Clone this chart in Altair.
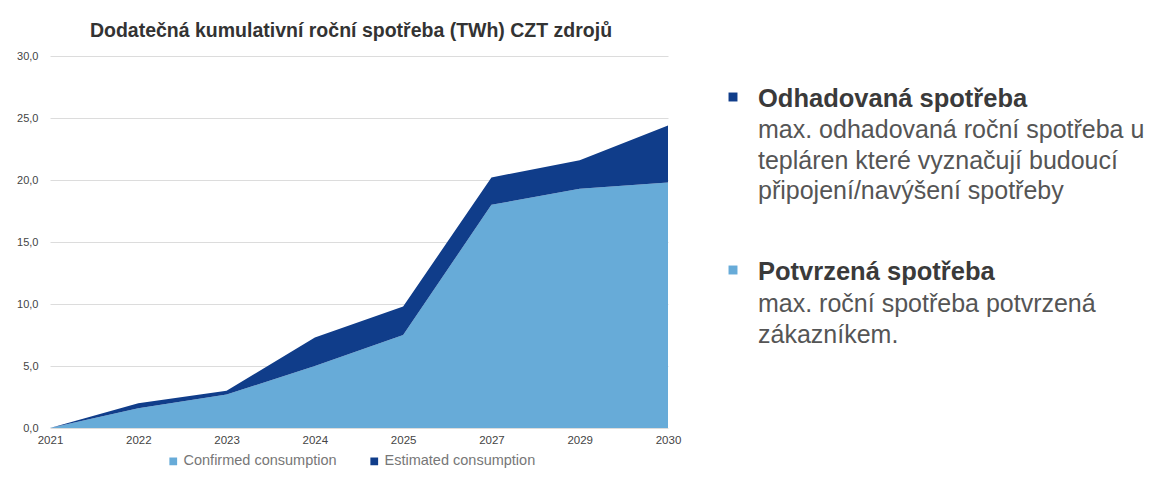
import altair as alt
import pandas as pd

years = ["2021", "2022", "2023", "2024", "2025", "2027", "2029", "2030"]
confirmed = [0.0, 1.6, 2.7, 5.0, 7.5, 18.0, 19.3, 19.8]
estimated = [0.0, 0.4, 0.3, 2.3, 2.3, 2.2, 2.3, 4.6]
series_names = ["Confirmed consumption", "Estimated consumption"]
series_colors = ["#67abd8", "#103d8a"]

title_text = "Dodatečná kumulativní roční spotřeba (TWh) CZT zdrojů"

rows = []
for i, y in enumerate(years):
    rows.append({"year": y, "series": series_names[0], "value": confirmed[i], "ord": 0})
    rows.append({"year": y, "series": series_names[1], "value": estimated[i], "ord": 1})
df = pd.DataFrame(rows)

FONT = "Liberation Sans"

area = alt.Chart(df).mark_area(opacity=1, line=False).encode(
    x=alt.X("year:O", sort=years,
            scale=alt.Scale(type="point", padding=0),
            axis=alt.Axis(title=None, labelAngle=0, domain=False, ticks=False,
                          labelFont=FONT, labelFontSize=11.5, labelColor="#444",
                          labelPadding=6, grid=False)),
    y=alt.Y("value:Q", stack="zero",
            scale=alt.Scale(domain=[0, 30]),
            axis=alt.Axis(title=None, values=[0, 5, 10, 15, 20, 25, 30],
                          labelExpr="replace(format(datum.value, '.1f'), '.', ',')",
                          domain=False, ticks=False, labelPadding=12,
                          labelFont=FONT, labelFontSize=11, labelColor="#444",
                          gridColor="#dcdcdc", gridWidth=1)),
    color=alt.Color("series:N", sort=series_names,
                    scale=alt.Scale(domain=series_names, range=series_colors),
                    legend=alt.Legend(title=None, orient="none", direction="horizontal",
                                      legendX=116, legendY=398,
                                      symbolType="square", symbolSize=60,
                                      symbolStrokeWidth=0, symbolOpacity=1,
                                      labelFont=FONT, labelFontSize=14.5,
                                      labelColor="#777", columnPadding=30,
                                      labelOffset=3)),
    order=alt.Order("ord:Q"),
)

heads = [
    ("Odhadovaná spotřeba", 51, series_colors[1]),
    ("Potvrzená spotřeba", 224, series_colors[0]),
]
bodies = [
    (["max. odhadovaná roční spotřeba u",
      "tepláren které vyznačují budoucí",
      "připojení/navýšení spotřeby"], 82),
    (["max. roční spotřeba potvrzená",
      "zákazníkem."], 256),
]

layers = [area]
XTXT = 708
for (txt, yb, col) in heads:
    layers.append(alt.Chart(pd.DataFrame({"t": [txt]})).mark_text(
        align="left", baseline="alphabetic", font=FONT, fontSize=25.5,
        fontWeight="bold", color="#3a3a3a").encode(
        text="t:N", x=alt.value(XTXT), y=alt.value(yb)))
    layers.append(alt.Chart(pd.DataFrame({"t": [txt]})).mark_square(
        size=80, opacity=1, color=col).encode(
        x=alt.value(XTXT - 25), y=alt.value(yb - 10)))
for (lines, yb) in bodies:
    for k, ln in enumerate(lines):
        layers.append(alt.Chart(pd.DataFrame({"t": [ln]})).mark_text(
            align="left", baseline="alphabetic", font=FONT, fontSize=25,
            color="#555555").encode(
            text="t:N", x=alt.value(XTXT), y=alt.value(yb + 30.5 * k)))

chart = alt.layer(*layers).properties(
    width=618, height=372,
    autosize=alt.AutoSizeParams(type="none"),
    padding={"left": 42, "top": 48, "right": 480, "bottom": 46},
    title=alt.TitleParams(title_text, font=FONT, fontSize=19.5, fontWeight="bold",
                          color="#333", anchor="middle", offset=9, dx=-8),
).configure_view(stroke=None)

chart.save("out.html", embed_options={"renderer": "svg", "actions": False})
